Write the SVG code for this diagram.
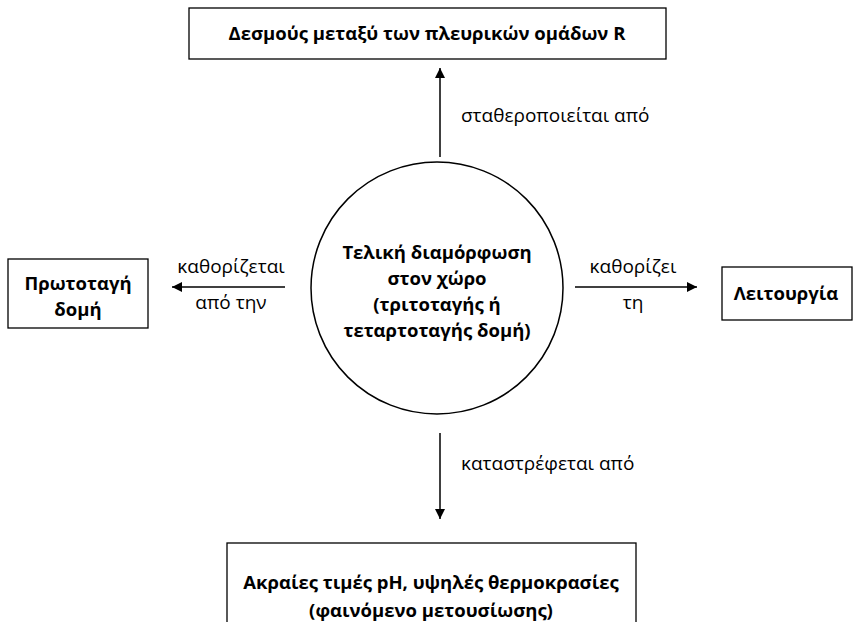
<svg xmlns="http://www.w3.org/2000/svg" width="854" height="622" viewBox="0 0 854 622">
<style>
.box{fill:#fff;stroke:#000;stroke-width:1.3}
.b{font-family:"Open Sans","Noto Sans",sans-serif;font-weight:bold;font-size:18.5px;fill:#000;text-anchor:middle}
.l{font-family:"Open Sans","Noto Sans",sans-serif;font-size:19px;fill:#000}
.c{stroke:#000;stroke-width:1.5;fill:none;marker-end:url(#ah)}
</style>
<defs>
<marker id="ah" viewBox="0 0 10 10" refX="10" refY="5" markerWidth="11" markerHeight="10" markerUnits="userSpaceOnUse" orient="auto">
<path d="M0,0 L10,5 L0,10 z" fill="#000"/>
</marker>
</defs>
<rect width="854" height="622" fill="#fff"/>
<g id="top">
<rect class="box" x="189" y="8" width="477" height="51"/>
<text class="b" x="427" y="40">Δεσμούς μεταξύ των πλευρικών ομάδων R</text>
</g>
<g id="center">
<circle cx="437" cy="288" r="126" fill="#fff" stroke="#000" stroke-width="1.5"/>
<text class="b" x="437" y="259">Τελική διαμόρφωση</text>
<text class="b" x="437" y="285">στον χώρο</text>
<text class="b" x="437" y="311">(τριτοταγής ή</text>
<text class="b" x="437" y="337">τεταρτοταγής δομή)</text>
</g>
<g id="left">
<rect class="box" x="8" y="259" width="140" height="69"/>
<text class="b" x="78" y="290">Πρωτοταγή</text>
<text class="b" x="78" y="316">δομή</text>
</g>
<g id="right">
<rect class="box" x="722" y="267" width="130" height="53"/>
<text class="b" x="786" y="300">Λειτουργία</text>
</g>
<g id="bottom">
<rect class="box" x="227" y="543" width="409" height="90"/>
<text class="b" x="431" y="589">Ακραίες τιμές pH, υψηλές θερμοκρασίες</text>
<text class="b" x="431" y="617">(φαινόμενο μετουσίωσης)</text>
</g>
<g id="connectors">
<line class="c" x1="440" y1="157" x2="440" y2="68"/>
<line class="c" x1="285" y1="287" x2="172" y2="287"/>
<line class="c" x1="575" y1="287" x2="697" y2="287"/>
<line class="c" x1="440" y1="433" x2="440" y2="519"/>
<text class="l" x="461" y="122">σταθεροποιείται από</text>
<text class="l" x="231" y="273" text-anchor="middle">καθορίζεται</text>
<text class="l" x="231" y="309" text-anchor="middle">από την</text>
<text class="l" x="633" y="273" text-anchor="middle">καθορίζει</text>
<text class="l" x="633" y="309" text-anchor="middle">τη</text>
<text class="l" x="461" y="470">καταστρέφεται από</text>
</g>
</svg>
